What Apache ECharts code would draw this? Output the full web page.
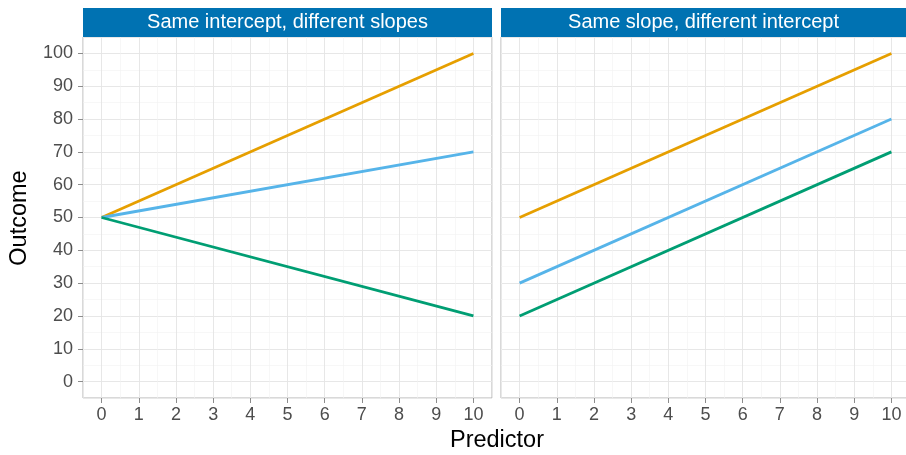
<!DOCTYPE html>
<html>
<head>
<meta charset="utf-8">
<script src="https://cdn.jsdelivr.net/npm/echarts@6/dist/echarts.min.js"></script>
<style>
  html, body { margin: 0; padding: 0; background: #fff; }
  #chart { width: 906px; height: 455px; }
</style>
</head>
<body>
<div id="chart"></div>
<script>
// Predictor endpoints shared by every line
const predictor = [0, 10];

// Panel titles
const panelTitles = ['Same intercept, different slopes', 'Same slope, different intercept'];

// Outcome at predictor = 0 and predictor = 10, per panel
const interceptOrange = [50, 100];
const interceptBlue = [50, 70];
const interceptGreen = [50, 20];

const slopeOrange = [50, 100];
const slopeBlue = [30, 80];
const slopeGreen = [20, 70];

// Tick labels (range and step)
const xTicks = [0, 1, 2, 3, 4, 5, 6, 7, 8, 9, 10];
const yTicks = [0, 10, 20, 30, 40, 50, 60, 70, 80, 90, 100];

const colors = { orange: '#E69F00', blue: '#56B4E9', green: '#009E73' };
const FONT = '"Liberation Sans", Arial, Helvetica, sans-serif';

const panels = [
  { left: 83, lines: [[interceptOrange, colors.orange], [interceptBlue, colors.blue], [interceptGreen, colors.green]] },
  { left: 501, lines: [[slopeOrange, colors.orange], [slopeBlue, colors.blue], [slopeGreen, colors.green]] }
];
const TOP = 37, W = 409, H = 361, TICK_LEN = 5;

// Data range with 5% padding on each side
const xMin = xTicks[0], xMax = xTicks[xTicks.length - 1], xStep = xTicks[1] - xTicks[0];
const yMin = yTicks[0], yMax = yTicks[yTicks.length - 1], yStep = yTicks[1] - yTicks[0];
const xPad = (xMax - xMin) * 0.05, yPad = (yMax - yMin) * 0.05;
const xSpan = xMax - xMin + 2 * xPad, ySpan = yMax - yMin + 2 * yPad;
const pxX = W / xSpan, pxY = H / ySpan;

const MAJOR = { color: '#e4e4e4', width: 0.9 };
const MINOR = { color: '#f2f2f2', width: 0.6 };
const TICK = { color: '#8c8c8c', width: 1 };
const hiddenAxis = { axisLine: { show: false }, axisTick: { show: false }, axisLabel: { show: false }, splitLine: { show: false } };

const grid = [], xAxis = [], yAxis = [], series = [], graphic = [];

function addGrid(g, xa, ya) {
  const gi = grid.length;
  grid.push(Object.assign({ containLabel: false, outerBoundsMode: 'none' }, g));
  xAxis.push(Object.assign({ type: 'value', gridIndex: gi }, xa));
  yAxis.push(Object.assign({ type: 'value', gridIndex: gi }, ya));
  return gi;
}

panels.forEach((p, i) => {
  // Panel: frame, minor grid lines, data lines
  const main = addGrid(
    { left: p.left, top: TOP, width: W, height: H, show: true, backgroundColor: 'transparent', borderColor: '#b3b3b3', borderWidth: 1 },
    Object.assign({}, hiddenAxis, { min: xMin - xPad, max: xMax + xPad, interval: xStep / 2, splitLine: { show: true, lineStyle: MINOR } }),
    Object.assign({}, hiddenAxis, { min: yMin - yPad, max: yMax + yPad, interval: yStep / 2, splitLine: { show: true, lineStyle: MINOR } })
  );

  // Major vertical grid lines
  addGrid(
    { left: p.left - (xStep - xPad) * pxX, top: TOP, width: (xSpan + 2 * (xStep - xPad)) * pxX, height: H },
    Object.assign({}, hiddenAxis, { min: xMin - xStep, max: xMax + xStep, interval: xStep,
      splitLine: { show: true, showMinLine: false, showMaxLine: false, lineStyle: MAJOR } }),
    Object.assign({}, hiddenAxis, { min: yMin - yPad, max: yMax + yPad })
  );

  // Major horizontal grid lines
  addGrid(
    { left: p.left, top: TOP - (yStep - yPad) * pxY, width: W, height: (ySpan + 2 * (yStep - yPad)) * pxY },
    Object.assign({}, hiddenAxis, { min: xMin - xPad, max: xMax + xPad }),
    Object.assign({}, hiddenAxis, { min: yMin - yStep, max: yMax + yStep, interval: yStep,
      splitLine: { show: true, showMinLine: false, showMaxLine: false, lineStyle: MAJOR } })
  );

  // X tick marks and labels along the panel's bottom edge
  // (companion y axis starts at 0, so the x axis rests on the bottom edge)
  addGrid(
    { left: p.left + xPad * pxX, top: TOP, width: (xMax - xMin) * pxX, height: H },
    { min: xMin, max: xMax, interval: xStep,
      axisLine: { show: false },
      axisTick: { show: true, length: TICK_LEN, lineStyle: TICK },
      axisLabel: { show: true, margin: 8, color: '#4d4d4d', fontSize: 18, fontFamily: FONT },
      splitLine: { show: false }, z: 6 },
    Object.assign({}, hiddenAxis, { min: 0, max: 1 })
  );

  // Y tick marks and labels along the left panel's left edge
  if (i === 0) {
    addGrid(
      { left: p.left, top: TOP + yPad * pxY, width: W, height: (yMax - yMin) * pxY },
      Object.assign({}, hiddenAxis, { min: 0, max: 1 }),
      { min: yMin, max: yMax, interval: yStep,
        axisLine: { show: false },
        axisTick: { show: true, length: TICK_LEN, lineStyle: TICK },
        axisLabel: { show: true, margin: 10, color: '#4d4d4d', fontSize: 18, fontFamily: FONT },
        splitLine: { show: false }, z: 6 }
    );
  }

  p.lines.forEach(([vals, color]) => {
    series.push({
      type: 'line', xAxisIndex: main, yAxisIndex: main,
      data: predictor.map((x, k) => [x, vals[k]]),
      symbol: 'none', silent: true,
      lineStyle: { color: color, width: 2.8 },
      z: 5
    });
  });

  // Facet strip
  graphic.push({
    type: 'rect',
    shape: { x: p.left, y: 8, width: W, height: TOP - 8 },
    style: { fill: '#0072B2' },
    z: 10
  });
  graphic.push({
    type: 'text',
    x: p.left + W / 2 + (i === 1 ? -2 : 0), y: 22.5,
    style: {
      text: panelTitles[i], fill: '#ffffff', fontSize: 20, fontFamily: FONT,
      align: 'center', verticalAlign: 'middle'
    },
    z: 11
  });
});

// Axis titles
graphic.push({
  type: 'text', x: 497, y: 441,
  style: { text: 'Predictor', fill: '#000000', fontSize: 23.5, fontFamily: FONT, align: 'center', verticalAlign: 'middle' }
});
graphic.push({
  type: 'text', x: 20, y: 218, rotation: Math.PI / 2,
  style: { text: 'Outcome', fill: '#000000', fontSize: 23.5, fontFamily: FONT, align: 'center', verticalAlign: 'middle' }
});

const chart = echarts.init(document.getElementById('chart'), null, { renderer: 'canvas' });
chart.setOption({
  animation: false,
  backgroundColor: '#ffffff',
  grid, xAxis, yAxis, series, graphic
});
</script>
</body>
</html>
